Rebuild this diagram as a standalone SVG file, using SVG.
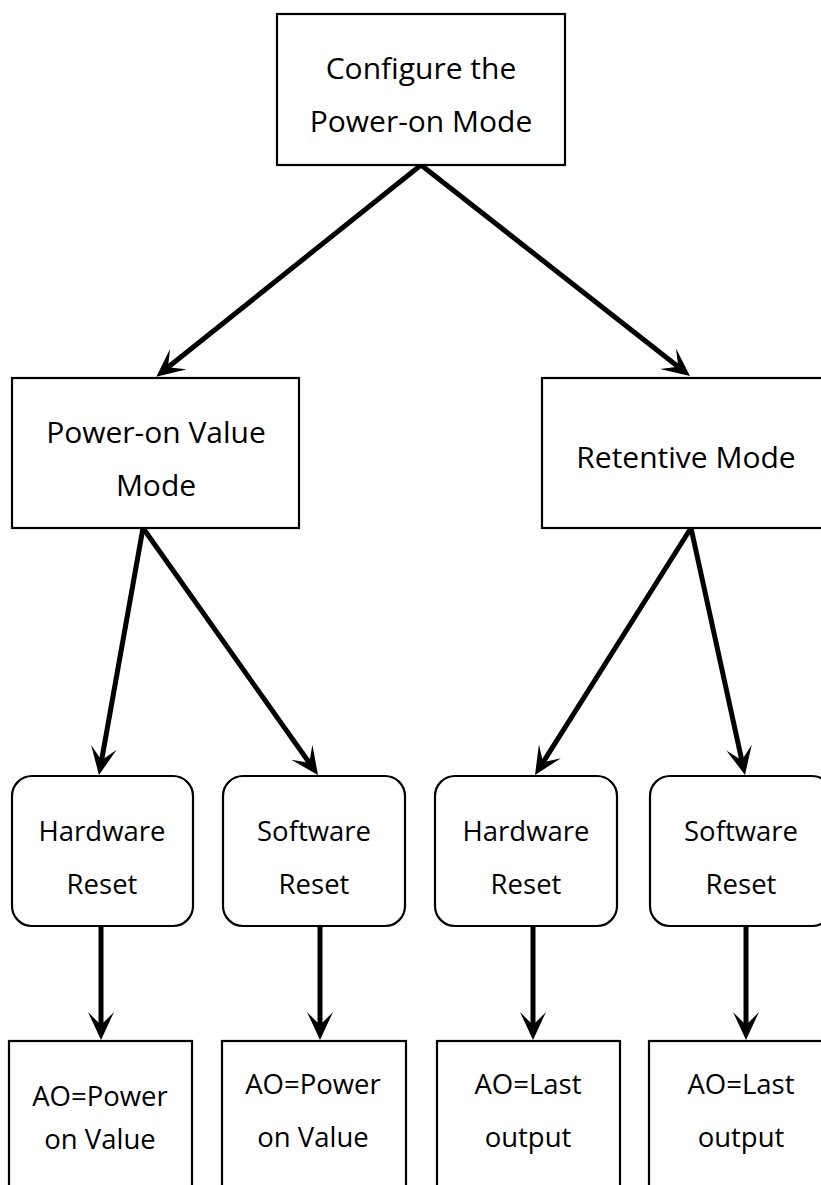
<svg xmlns="http://www.w3.org/2000/svg" width="821" height="1185" viewBox="0 0 821 1185">
<style>
.box{fill:#fff;stroke:#000;stroke-width:2.2}
.t30{font-family:"Open Sans","Liberation Sans",sans-serif;font-size:30px;fill:#000;text-anchor:middle}
.t28{font-family:"Open Sans","Liberation Sans",sans-serif;font-size:27.5px;fill:#000;text-anchor:middle}
.edge{stroke:#000;stroke-width:5;fill:none;marker-end:url(#ah)}
</style>
<defs>
<marker id="ah" markerUnits="userSpaceOnUse" markerWidth="28" markerHeight="26" viewBox="0 0 28 26" refX="13" refY="13" orient="auto">
<path d="M0,0 L28,13 L0,26 L13,13 z" fill="#000"/>
</marker>
</defs>
<rect x="0" y="0" width="821" height="1185" fill="#fff"/>
<g id="connectors">
<line class="edge" x1="421" y1="165" x2="168" y2="367.3"/>
<line class="edge" x1="421" y1="165" x2="678.2" y2="366.7"/>
<line class="edge" x1="143" y1="528" x2="101.6" y2="760.2"/>
<line class="edge" x1="143" y1="528" x2="309.3" y2="762.8"/>
<line class="edge" x1="691" y1="528" x2="543" y2="762.3"/>
<line class="edge" x1="691" y1="528" x2="741.8" y2="760.3"/>
<line class="edge" x1="101" y1="927" x2="101" y2="1025"/>
<line class="edge" x1="320" y1="927" x2="320" y2="1025"/>
<line class="edge" x1="533" y1="927" x2="533" y2="1025"/>
<line class="edge" x1="746" y1="927" x2="746" y2="1025"/>
</g>
<g id="n-config">
<rect class="box" x="277" y="14" width="288" height="151"/>
<text class="t30" x="421" y="79">Configure the</text>
<text class="t30" x="421" y="132">Power-on Mode</text>
</g>
<g id="n-powervalue">
<rect class="box" x="12" y="378" width="287" height="150"/>
<text class="t30" x="156" y="443">Power-on Value</text>
<text class="t30" x="156" y="496">Mode</text>
</g>
<g id="n-retentive">
<rect class="box" x="542" y="378" width="288" height="150"/>
<text class="t30" x="686" y="468">Retentive Mode</text>
</g>
<g id="n-hw1">
<rect class="box" x="12" y="776" width="181" height="150" rx="20" ry="20"/>
<text class="t28" x="102" y="841">Hardware</text>
<text class="t28" x="102" y="894">Reset</text>
</g>
<g id="n-sw1">
<rect class="box" x="223" y="776" width="182" height="150" rx="20" ry="20"/>
<text class="t28" x="314" y="841">Software</text>
<text class="t28" x="314" y="894">Reset</text>
</g>
<g id="n-hw2">
<rect class="box" x="435" y="776" width="182" height="150" rx="20" ry="20"/>
<text class="t28" x="526" y="841">Hardware</text>
<text class="t28" x="526" y="894">Reset</text>
</g>
<g id="n-sw2">
<rect class="box" x="650" y="776" width="182" height="150" rx="20" ry="20"/>
<text class="t28" x="741" y="841">Software</text>
<text class="t28" x="741" y="894">Reset</text>
</g>
<g id="n-ao1">
<rect class="box" x="9" y="1041" width="183" height="170"/>
<text class="t28" x="100" y="1106">AO=Power</text>
<text class="t28" x="100" y="1149">on Value</text>
</g>
<g id="n-ao2">
<rect class="box" x="222" y="1041" width="184" height="170"/>
<text class="t28" x="313" y="1094">AO=Power</text>
<text class="t28" x="313" y="1147">on Value</text>
</g>
<g id="n-ao3">
<rect class="box" x="437" y="1041" width="183" height="170"/>
<text class="t28" x="528" y="1094">AO=Last</text>
<text class="t28" x="528" y="1147">output</text>
</g>
<g id="n-ao4">
<rect class="box" x="649" y="1041" width="184" height="170"/>
<text class="t28" x="741" y="1094">AO=Last</text>
<text class="t28" x="741" y="1147">output</text>
</g>
</svg>
